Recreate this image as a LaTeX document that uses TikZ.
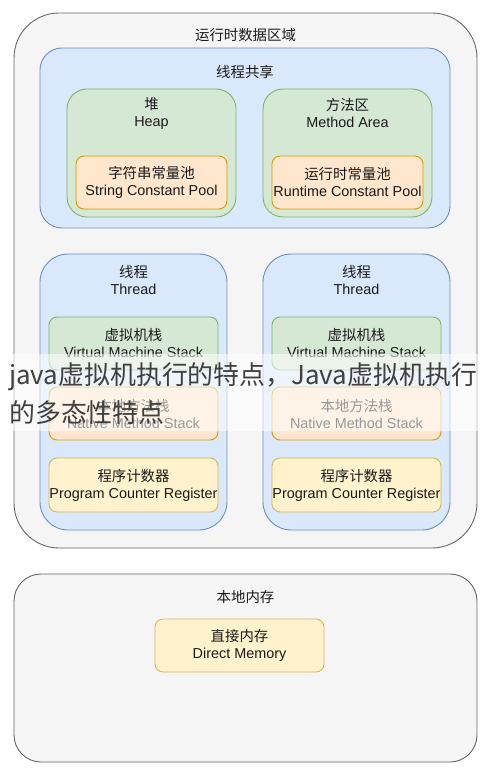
\documentclass[tikz,border=0pt]{standalone}
\usepackage{fontspec}
\setmainfont{Liberation Sans}
\newfontfamily\cjk{Noto Sans CJK SC}
\definecolor{outerfill}{HTML}{F5F5F5}
\definecolor{outerline}{HTML}{666666}
\definecolor{bluefill}{HTML}{DAE8FC}
\definecolor{blueline}{HTML}{6C8EBF}
\definecolor{greenfill}{HTML}{D5E8D4}
\definecolor{greenline}{HTML}{82B366}
\definecolor{orangefill}{HTML}{FFE6CC}
\definecolor{orangeline}{HTML}{D79B00}
\definecolor{yellowfill}{HTML}{FFF2CC}
\definecolor{yellowline}{HTML}{D6B656}
\definecolor{txt}{HTML}{1A1A1A}
\definecolor{wm}{HTML}{404040}
\begin{document}
\begin{tikzpicture}[x=1pt,y=-1pt,
  box/.style={draw, line width=0.9pt, inner sep=0pt, text=txt, align=center,
    font=\fontsize{14.4}{17}\selectfont},
  outerbox/.style={box, fill=outerfill, draw=outerline, rounded corners=#1},
  bluebox/.style={box, fill=bluefill, draw=blueline, rounded corners=#1},
  greenbox/.style={box, fill=greenfill, draw=greenline, rounded corners=#1},
  orangebox/.style={box, fill=orangefill, draw=orangeline, rounded corners=8pt},
  yellowbox/.style={box, fill=yellowfill, draw=yellowline, rounded corners=8pt},
  title/.style={text=txt, align=center, inner sep=0pt, font=\fontsize{14.4}{17}\selectfont},
  wmtext/.style={anchor=west, inner sep=0pt, text=wm, font=\cjk\fontsize{25.9}{30}\selectfont},
]
\useasboundingbox[fill=white] (0,0) rectangle (490,775);

% runtime data area
\node[outerbox=45pt, minimum width=463pt, minimum height=535pt] (rda) at (245.5,280.5) {};
\node[title] (rdat) at (245.5,35) {\cjk 运行时数据区域};

% shared
\node[bluebox=22pt, minimum width=410pt, minimum height=180pt] (shared) at (245,138) {};
\node[title] (sharedt) at (245,72) {\cjk 线程共享};

\node[greenbox=20pt, minimum width=169pt, minimum height=128pt] (heap) at (151.5,153) {};
\node[title] (heapt) at (151.5,113) {{\cjk 堆}\\Heap};
\node[orangebox, minimum width=151pt, minimum height=53pt] (scp) at (151.5,182.5) {{\cjk 字符串常量池}\\String Constant Pool};

\node[greenbox=20pt, minimum width=169pt, minimum height=128pt] (ma) at (347.5,153) {};
\node[title] (mat) at (347.5,113) {{\cjk 方法区}\\Method Area};
\node[orangebox, minimum width=151pt, minimum height=53pt] (rcp) at (347.5,182.5) {{\cjk 运行时常量池}\\Runtime Constant Pool};

% threads
\node[bluebox=28pt, minimum width=187pt, minimum height=276pt] (thl) at (133.5,392) {};
\node[title] (thlt) at (133.5,280.5) {{\cjk 线程}\\Thread};
\node[greenbox=8pt, minimum width=169pt, minimum height=53pt] (vmsl) at (133.5,343.5) {{\cjk 虚拟机栈}\\Virtual Machine Stack};
\node[orangebox, minimum width=169pt, minimum height=53pt] (nmsl) at (133.5,413.5) {{\cjk 本地方法栈}\\Native Method Stack};
\node[yellowbox, minimum width=169pt, minimum height=54pt] (pcrl) at (133.5,485) {{\cjk 程序计数器}\\Program Counter Register};

\node[bluebox=28pt, minimum width=187pt, minimum height=276pt] (thr) at (356.5,392) {};
\node[title] (thrt) at (356.5,280.5) {{\cjk 线程}\\Thread};
\node[greenbox=8pt, minimum width=169pt, minimum height=53pt] (vmsr) at (356.5,343.5) {{\cjk 虚拟机栈}\\Virtual Machine Stack};
\node[orangebox, minimum width=169pt, minimum height=53pt] (nmsr) at (356.5,413.5) {{\cjk 本地方法栈}\\Native Method Stack};
\node[yellowbox, minimum width=169pt, minimum height=54pt] (pcrr) at (356.5,485) {{\cjk 程序计数器}\\Program Counter Register};

% local memory
\node[outerbox=27pt, minimum width=463pt, minimum height=188pt] (local) at (245.5,668) {};
\node[title] (localt) at (245.5,597) {\cjk 本地内存};
\node[yellowbox, minimum width=169pt, minimum height=53pt] (dm) at (239.5,645.5) {{\cjk 直接内存}\\Direct Memory};

% watermark band
\fill[white, opacity=0.55] (3,354) rectangle (480,431);
\node[wmtext] (wm1) at (9,377) {java虚拟机执行的特点，Java虚拟机执行};
\node[wmtext] (wm2) at (9,413) {的多态性特点};
\end{tikzpicture}
\end{document}
